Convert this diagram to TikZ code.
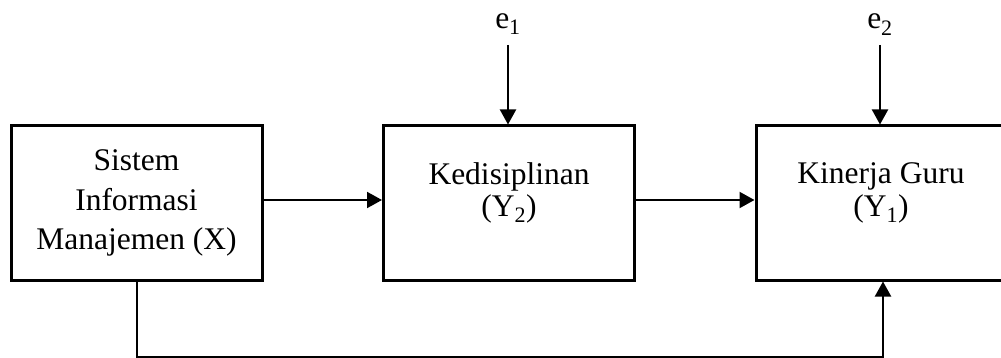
\documentclass[tikz,border=0pt]{standalone}
\usepackage{fontspec}
\setmainfont{Liberation Serif}
\usetikzlibrary{arrows.meta}

\begin{document}
\begin{tikzpicture}[x=1pt,y=-1pt,
  box/.style={draw, line width=3pt, minimum width=251pt, minimum height=154pt,
              align=center, inner sep=0pt, font=\fontsize{31.5}{32.5}\selectfont},
  twoline/.style={text depth=27pt},
  link/.style={line width=2pt, -{Triangle[width=16pt,length=15pt]}},
  errlabel/.style={font=\fontsize{31.5}{32}\selectfont, inner sep=0pt, anchor=base}]
  \useasboundingbox (0,0) rectangle (1001,358);

  % the three variable boxes
  \node[box, font=\fontsize{31.5}{39.5}\selectfont] (sim) at (136.5,203)
       {Sistem\\Informasi\\Manajemen (X)};
  \node[box, twoline] (dis) at (509,203) {Kedisiplinan\\(Y\textsubscript{2})};
  \node[box, twoline, minimum width=250pt] (kin) at (881,203) {Kinerja Guru\\(Y\textsubscript{1})};

  % error terms
  \node[errlabel] (e1) at (508,29) {e\textsubscript{1}};
  \node[errlabel] (e2) at (880,29) {e\textsubscript{2}};
  \coordinate (e1s) at (508,45);
  \coordinate (e2s) at (880,45);

  % paths
  \draw[link] ([yshift=3pt]sim.east) -- ([yshift=3pt]dis.west);
  \draw[link] ([yshift=3pt]dis.east) -- ([yshift=3pt]kin.west);
  \draw[link] (e1s) -- (e1s |- dis.north);
  \draw[link] (e2s) -- (e2s |- kin.north);
  \coordinate (low) at (137,357);
  \draw[link] (sim.south -| low) -- (low) -| ([xshift=2pt]kin.south);
\end{tikzpicture}
\end{document}
